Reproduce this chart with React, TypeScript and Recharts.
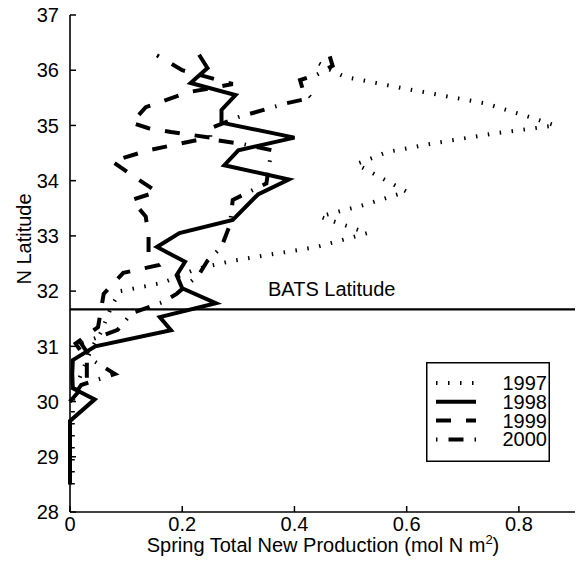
import { ScatterChart, Scatter, XAxis, YAxis, ReferenceLine, Legend } from 'recharts';

// latitude (deg N) and spring total new production (mol N m^2)
const lat1997 = [28.5, 29.0, 29.5, 30.0, 30.25, 30.5, 30.75, 31.0, 31.25, 31.5, 31.75, 32.0, 32.15, 32.4, 32.55, 32.8, 33.05, 33.35, 33.55, 33.8, 34.05, 34.3, 34.52, 34.68, 34.86, 35.0, 35.15, 35.4, 35.68, 35.88, 36.0, 36.2];
const np1997 = [0.005, 0.005, 0.005, 0.005, 0.01, 0.02, 0.03, 0.04, 0.055, 0.065, 0.075, 0.09, 0.165, 0.225, 0.29, 0.44, 0.53, 0.445, 0.52, 0.6, 0.555, 0.51, 0.566, 0.65, 0.76, 0.865, 0.82, 0.74, 0.59, 0.49, 0.465, 0.43];

const lat1998 = [28.5, 29.0, 29.65, 30.04, 30.24, 30.5, 30.75, 31.0, 31.29, 31.53, 31.78, 32.05, 32.29, 32.53, 32.8, 33.05, 33.29, 33.75, 34.02, 34.28, 34.55, 34.78, 35.05, 35.28, 35.55, 35.77, 36.04, 36.28];
const np1998 = [0.0, 0.0, 0.0, 0.044, 0.005, 0.004, 0.005, 0.045, 0.18, 0.16, 0.26, 0.2, 0.19, 0.205, 0.155, 0.195, 0.29, 0.335, 0.39, 0.275, 0.3, 0.4, 0.27, 0.27, 0.295, 0.215, 0.245, 0.23];

const lat1999 = [30.0, 30.35, 30.75, 31.05, 31.35, 31.65, 31.95, 32.33, 32.47, 32.7, 33.0, 33.35, 33.65, 33.8, 34.1, 34.35, 34.55, 34.7, 34.78, 34.88, 34.95, 35.05, 35.33, 35.6, 35.75, 36.0, 36.27];
const np1999 = [0.0, 0.03, 0.03, 0.01, 0.05, 0.055, 0.06, 0.095, 0.157, 0.14, 0.14, 0.135, 0.11, 0.155, 0.11, 0.075, 0.14, 0.21, 0.25, 0.18, 0.14, 0.11, 0.135, 0.21, 0.29, 0.2, 0.155];

const lat2000 = [30.0, 30.3, 30.5, 30.75, 31.05, 31.3, 31.6, 31.8, 31.95, 32.3, 32.55, 32.8, 33.2, 33.65, 33.95, 34.3, 34.55, 34.66, 34.75, 34.95, 35.15, 35.4, 35.5, 35.65, 35.82, 35.92, 36.08, 36.25];
const np2000 = [0.0, 0.02, 0.08, 0.04, 0.02, 0.085, 0.11, 0.165, 0.19, 0.23, 0.245, 0.27, 0.285, 0.29, 0.35, 0.355, 0.36, 0.31, 0.25, 0.25, 0.3, 0.385, 0.43, 0.415, 0.41, 0.44, 0.468, 0.463];

const xTicks = [0, 0.2, 0.4, 0.6, 0.8];
const yTicks = [28, 29, 30, 31, 32, 33, 34, 35, 36, 37];
const batsLat = 31.67;

const FONT = "'Liberation Sans', Arial, Helvetica, sans-serif";

const toPoints = (lats: number[], vals: number[]) => lats.map((y, i) => ({ x: vals[i], y }));

const series = [
  { name: '1997', data: toPoints(lat1997, np1997), dash: '1.5 10.5' },
  { name: '1998', data: toPoints(lat1998, np1998), dash: undefined },
  { name: '1999', data: toPoints(lat1999, np1999), dash: '15 15' },
  { name: '2000', data: toPoints(lat2000, np2000), dash: '1.5 11 15 11' },
];

const noDot = () => <g />;

const BottomTick = ({ x, y, payload }: any) => (
  <g>
    <line x1={x} y1={y} x2={x} y2={y - 6} stroke="#000" strokeWidth={1.5} />
    <text x={x} y={y + 19} textAnchor="middle" fontSize={20} fontFamily={FONT} fill="#000">
      {String(payload.value)}
    </text>
  </g>
);

const TopTick = ({ x, y }: any) => (
  <line x1={x} y1={y} x2={x} y2={y + 6} stroke="#000" strokeWidth={1.5} />
);

const LeftTick = ({ x, y, payload }: any) => (
  <g>
    <line x1={x} y1={y} x2={x + 6} y2={y} stroke="#000" strokeWidth={1.5} />
    <text x={x - 11} y={y} dy="0.36em" textAnchor="end" fontSize={20} fontFamily={FONT} fill="#000">
      {payload.value}
    </text>
  </g>
);

const RightTick = ({ x, y }: any) => (
  <line x1={x} y1={y} x2={x - 6} y2={y} stroke="#000" strokeWidth={1.5} />
);

const XTitle = () => (
  <text x={323} y={552} textAnchor="middle" fontSize={20} fontFamily={FONT} fill="#000">
    <tspan>Spring Total New Production (mol N m</tspan>
    <tspan dy={-8} fontSize={13}>2</tspan>
    <tspan dy={8}>)</tspan>
  </text>
);

const YTitle = () => (
  <text
    x={24}
    y={239}
    dy="0.36em"
    transform="rotate(-90, 24, 239)"
    textAnchor="middle"
    fontSize={20}
    fontFamily={FONT}
    fill="#000"
  >
    N Latitude
  </text>
);

const BatsLabel = () => (
  <text x={268} y={296} fontSize={20} fontFamily={FONT} fill="#000">
    BATS Latitude
  </text>
);

const renderLegend = () => (
  <svg width={124} height={100} style={{ display: 'block' }}>
    <rect x={0.75} y={0.75} width={122.5} height={98.5} fill="#fff" stroke="#000" strokeWidth={1.5} />
    {series.map((s, i) => {
      const base = 28 + i * 18.8;
      return (
        <g key={s.name}>
          <line
            x1={10}
            x2={50}
            y1={base - 7}
            y2={base - 7}
            stroke="#000"
            strokeWidth={4}
            strokeDasharray={s.dash}
          />
          <text x={121} y={base} textAnchor="end" fontSize={20} fontFamily={FONT} fill="#000">
            {s.name}
          </text>
        </g>
      );
    })}
  </svg>
);

export default function App() {
  return (
    <div style={{ position: 'absolute', left: 0, top: 0, background: '#fff', fontFamily: FONT }}>
      <ScatterChart width={579} height={566} margin={{ top: 15, right: 4, bottom: 0, left: 0 }}>
        <XAxis
          dataKey="x"
          type="number"
          domain={[0, 0.9]}
          ticks={xTicks}
          interval={0}
          height={54}
          tickSize={0}
          tickMargin={0}
          tickLine={false}
          tick={(p: any) => <BottomTick {...p} />}
          axisLine={{ stroke: '#000', strokeWidth: 1.6 }}
          label={<XTitle />}
        />
        <XAxis
          xAxisId="top"
          orientation="top"
          type="number"
          domain={[0, 0.9]}
          ticks={xTicks}
          interval={0}
          height={0}
          tickSize={0}
          tickMargin={0}
          tickLine={false}
          tick={(p: any) => <TopTick {...p} />}
          axisLine={{ stroke: '#000', strokeWidth: 1.6 }}
        />
        <YAxis
          dataKey="y"
          type="number"
          domain={[28, 37]}
          ticks={yTicks}
          interval={0}
          width={70}
          tickSize={0}
          tickMargin={0}
          tickLine={false}
          tick={(p: any) => <LeftTick {...p} />}
          axisLine={{ stroke: '#000', strokeWidth: 1.6 }}
          label={<YTitle />}
        />
        <YAxis
          yAxisId="right"
          orientation="right"
          type="number"
          domain={[28, 37]}
          ticks={yTicks}
          interval={0}
          width={0}
          tickSize={0}
          tickMargin={0}
          tickLine={false}
          tick={(p: any) => <RightTick {...p} />}
          axisLine={{ stroke: '#000', strokeWidth: 1.6 }}
        />
        <ReferenceLine y={batsLat} stroke="#000" strokeWidth={2.2} label={<BatsLabel />} />
        {series.map((s) => (
          <Scatter
            key={s.name}
            name={s.name}
            data={s.data}
            fill="#000"
            shape={noDot}
            line={{ stroke: '#000', strokeWidth: 4, strokeDasharray: s.dash, fill: 'none' }}
            lineJointType="linear"
            isAnimationActive={false}
          />
        ))}
        <Legend
          layout="horizontal"
          verticalAlign="middle"
          align="center"
          content={renderLegend}
          wrapperStyle={{ position: 'absolute', left: 426, top: 362, width: 124, height: 100 }}
        />
      </ScatterChart>
    </div>
  );
}
